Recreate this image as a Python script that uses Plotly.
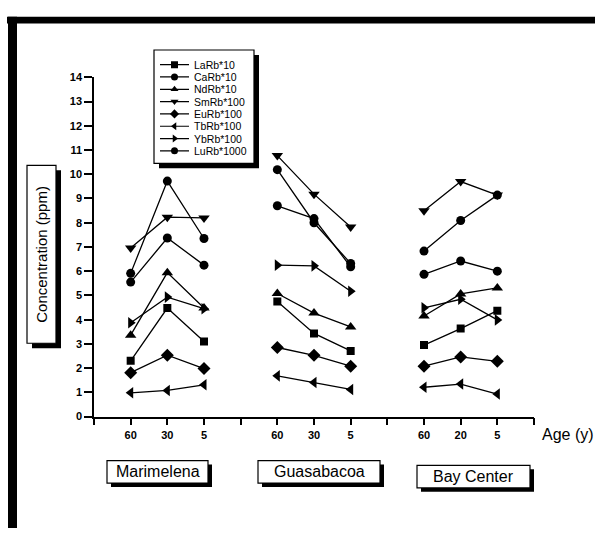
import plotly.graph_objects as go

W, H = 595, 534

# ---------------- data ----------------
x_positions = [1, 2, 3, 5, 6, 7, 9, 10, 11]
tick_vals = list(range(0, 13))
tick_labels = ["", "60", "30", "5", "", "60", "30", "5", "", "60", "20", "5", ""]
groups = ["Marimelena", "Guasabacoa", "Bay Center"]

series_names = ["LaRb*10", "CaRb*10", "NdRb*10", "SmRb*100",
                "EuRb*100", "TbRb*100", "YbRb*100", "LuRb*1000"]

LaRb = [2.30, 4.48, 3.10, 4.75, 3.43, 2.71, 2.95, 3.63, 4.37]
CaRb = [5.55, 7.37, 6.25, 8.70, 8.17, 6.18, 5.87, 6.42, 6.00]
NdRb = [3.36, 5.94, 4.48, 5.08, 4.27, 3.70, 4.15, 5.06, 5.31]
SmRb = [6.96, 8.23, 8.20, 10.77, 9.18, 7.82, 8.49, 9.70, 9.14]
EuRb = [1.81, 2.53, 1.98, 2.85, 2.53, 2.08, 2.08, 2.46, 2.28]
TbRb = [0.98, 1.08, 1.31, 1.68, 1.41, 1.12, 1.21, 1.34, 0.93]
YbRb = [3.87, 4.93, 4.45, 6.25, 6.22, 5.17, 4.49, 4.84, 3.99]
LuRb = [5.91, 9.72, 7.35, 10.19, 8.00, 6.32, 6.83, 8.09, 9.14]

series_values = [LaRb, CaRb, NdRb, SmRb, EuRb, TbRb, YbRb, LuRb]
symbols = ["square", "circle", "triangle-up", "triangle-down",
           "diamond", "triangle-left", "triangle-right", "circle"]
sizes = [8, 9, 10, 10, 10, 10, 10, 9]


def px(x):
    return x / W


def py(y):
    return 1 - y / H


def split_groups(xs, ys):
    ox, oy = [], []
    for g in range(3):
        ox += xs[g * 3:(g + 1) * 3] + [None]
        oy += ys[g * 3:(g + 1) * 3] + [None]
    return ox, oy


fig = go.Figure()

for name, vals, sym, sz in zip(series_names, series_values, symbols, sizes):
    gx, gy = split_groups(x_positions, vals)
    fig.add_trace(go.Scatter(
        x=gx, y=gy, mode="lines+markers", name=name, showlegend=False,
        line=dict(color="black", width=1.3),
        marker=dict(symbol=sym, size=sz, color="black"),
        connectgaps=False, xaxis="x", yaxis="y"))

# ---------------- hand legend on its own axes ----------------
leg_l, leg_t, leg_r, leg_b = 154, 45, 254, 161
for i, (name, sym) in enumerate(zip(series_names, symbols)):
    yy = 15 + 12.6 * i
    fig.add_trace(go.Scatter(
        x=[6, 35], y=[yy, yy], mode="lines", showlegend=False,
        line=dict(color="black", width=1.2), xaxis="x2", yaxis="y2",
        hoverinfo="skip"))
    fig.add_trace(go.Scatter(
        x=[20.5], y=[yy], mode="markers", showlegend=False,
        marker=dict(symbol=sym, size=7, color="black"),
        xaxis="x2", yaxis="y2", hoverinfo="skip"))
    fig.add_annotation(x=38, y=yy, xref="x2", yref="y2", text=name,
                       showarrow=False, xanchor="left", yanchor="middle",
                       font=dict(family="Liberation Sans", size=10.5, color="black"))

# ---------------- shapes ----------------
shapes = []
# page frame (top and left thick bars)
shapes.append(dict(type="rect", xref="paper", yref="paper",
                   x0=px(7), x1=px(595), y0=py(18), y1=py(11),
                   fillcolor="black", line=dict(width=0), layer="below"))
shapes.append(dict(type="rect", xref="paper", yref="paper",
                   x0=px(8), x1=px(17), y0=py(534), y1=py(11),
                   fillcolor="black", line=dict(width=0), layer="below"))


def shadow_box(x0, y0, x1, y1, off=5):
    shapes.append(dict(type="rect", xref="paper", yref="paper",
                       x0=px(x0 + off), x1=px(x1 + off), y0=py(y1 + off), y1=py(y0 + off),
                       fillcolor="black", line=dict(width=0), layer="below"))
    shapes.append(dict(type="rect", xref="paper", yref="paper",
                       x0=px(x0), x1=px(x1), y0=py(y1), y1=py(y0),
                       fillcolor="white", line=dict(color="black", width=1.2), layer="below"))


shadow_box(leg_l, leg_t, leg_r, leg_b, off=5)
shadow_box(27, 163, 56, 345, off=5)

group_boxes = [(107, 465, 208, 488), (258, 465, 380, 488), (417, 470, 530, 493)]
for g, (x0, y0, x1, y1) in zip(groups, group_boxes):
    shadow_box(x0, y0, x1, y1, off=4)
    fig.add_annotation(x=px((x0 + x1) / 2), y=py((y0 + y1) / 2), xref="paper", yref="paper",
                       text=g, showarrow=False, xanchor="center", yanchor="middle",
                       font=dict(family="Liberation Sans", size=16, color="black"))

fig.add_annotation(x=px(41.5), y=py(254), xref="paper", yref="paper",
                   text="Concentration (ppm)", textangle=-90, showarrow=False,
                   xanchor="center", yanchor="middle",
                   font=dict(family="Liberation Sans", size=15, color="black"))

fig.add_annotation(x=px(568), y=py(438), xref="paper", yref="paper",
                   text="Age (y)", showarrow=False, xanchor="center", yanchor="middle",
                   font=dict(family="Liberation Sans", size=16, color="black"))

tickfont = dict(family="Liberation Sans", size=11, color="black", weight="bold")

fig.update_layout(
    width=W, height=H,
    margin=dict(l=0, r=0, t=0, b=0),
    paper_bgcolor="white", plot_bgcolor="rgba(0,0,0,0)",
    shapes=shapes,
    showlegend=False,
    xaxis=dict(domain=[px(94), px(534)], range=[0, 12],
               tickmode="array", tickvals=tick_vals, ticktext=tick_labels,
               showline=True, linecolor="black", linewidth=1.5,
               ticks="outside", ticklen=7, tickwidth=1.5, tickcolor="black",
               showgrid=False, zeroline=False, tickfont=tickfont,
               anchor="y", fixedrange=True),
    yaxis=dict(domain=[py(420), py(73)], range=[0, 14],
               tickmode="linear", tick0=0, dtick=1,
               showline=True, linecolor="black", linewidth=1.5,
               ticks="outside", ticklen=8, tickwidth=1.5, tickcolor="black",
               showgrid=False, zeroline=False, tickfont=tickfont,
               anchor="x", fixedrange=True),
    xaxis2=dict(domain=[px(leg_l), px(leg_r)], range=[0, leg_r - leg_l],
                visible=False, anchor="y2", fixedrange=True),
    yaxis2=dict(domain=[py(leg_b), py(leg_t)], range=[leg_b - leg_t, 0],
                visible=False, anchor="x2", fixedrange=True),
)

fig.write_html("out.html",
               config={"displayModeBar": False},
               post_script="document.body.style.margin='0';document.body.style.overflow='hidden';")
